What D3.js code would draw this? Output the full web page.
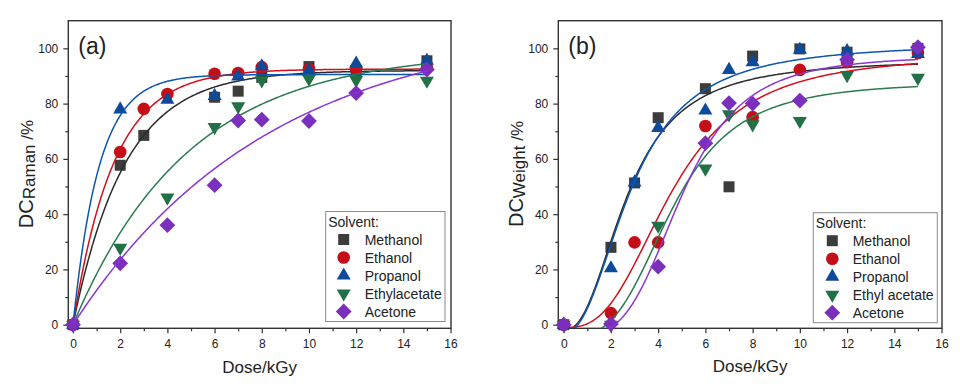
<!DOCTYPE html>
<html>
<head>
<meta charset="utf-8">
<script src="https://cdn.jsdelivr.net/npm/d3@7"></script>
<style>
  body { margin: 0; background: #fff; }
  text { font-family: "Liberation Sans", Arial, sans-serif; fill: #222; }
</style>
</head>
<body>
<div id="chart-area"></div>
<script>
// DATA  (dose in kGy, degree of conversion in %)
var solventsA = ["Methanol", "Ethanol", "Propanol", "Ethylacetate", "Acetone"];
var solventsB = ["Methanol", "Ethanol", "Propanol", "Ethyl acetate", "Acetone"];
var xTicks = [0, 2, 4, 6, 8, 10, 12, 14, 16];
var yTicks = [0, 20, 40, 60, 80, 100];

// (a) DC Raman
var ramanMethanol = [[0,0],[2,57.7],[3,68.5],[6,82.3],[7,84.5],[8,89.5],[10,93.4],[12,92],[15,95.5]];
var ramanEthanol = [[0,0],[2,62.5],[3,78.1],[4,83.5],[6,90.8],[7,91.1],[8,93.2],[10,92.5],[12,92.5],[15,93]];
var ramanPropanol = [[0,0],[2,77.9],[4,81.4],[6,82.8],[7,89.8],[8,93.5],[10,92],[12,94.5],[15,95.5]];
var ramanEthylacetate = [[0,0],[2,27.8],[4,46],[6,71.5],[7,79],[8,88.4],[10,89],[12,88.5],[15,88.3]];
var ramanAcetone = [[0,0],[2,22.2],[4,36],[6,50.5],[7,73.9],[8,74.2],[10,73.7],[12,83.8],[15,92.3]];

// exponential fit y = A(1 - exp(-k x))
var ramanFitA = [92, 92.5, 90.5, 99, 110];
var ramanFitK = [0.455, 0.58, 0.904, 0.205, 0.12];

// (b) DC weight
var weightMethanol = [[0,0],[2,28],[3,51.3],[4,74.9],[6,85.4],[7,49.9],[8,97.2],[10,99.8],[12,98.6],[15,100]];
var weightEthanol = [[0,0],[2,4.2],[3,29.8],[4,29.8],[6,71.9],[8,75.1],[10,92.2],[12,95],[15,98.3]];
var weightPropanol = [[0,0],[2,20.4],[3,51.5],[4,71.2],[6,77.5],[7,92.2],[8,95],[10,99.5],[12,99],[15,98]];
var weightEthylAcetate = [[0,0],[2,0],[4,35.8],[6,56.5],[7,76.1],[8,72.5],[10,73.7],[12,90.3],[15,89.3]];
var weightAcetone = [[0,0],[2,0.3],[4,21],[6,65.7],[7,80.2],[8,80],[10,81.1],[12,95.9],[15,100.4]];

// logistic fit y = A2 + (A1 - A2) / (1 + (x/x0)^p)
var weightFitA1 = [-2, -1, -3, -4, -4];
var weightFitA2 = [96, 98, 102, 88, 97.5];
var weightFitX0 = [2.71, 4.6, 2.88, 4.6, 5.0];
var weightFitP = [2.35, 2.8, 2.25, 3.3, 3.8];

// STYLE
var markerColors = ["#3c3c3c", "#c40f16", "#0e4a9a", "#217046", "#7b2fbd"];
var lineColors = ["#2b2b2b", "#d0101a", "#0c56b0", "#2a7c50", "#8a35d0"];
var shapes = ["square", "circle", "up", "down", "diamond"];

var svg = d3.select("#chart-area").append("svg")
    .attr("width", 960)
    .attr("height", 389)
    .style("display", "block");

svg.append("rect").attr("width", 960).attr("height", 389).attr("fill", "#fff");

function addMarker(sel, shape, color) {
    var p;
    if (shape == "square") p = sel.append("path").attr("d", d3.symbol(d3.symbolSquare, 121)());
    else if (shape == "circle") p = sel.append("path").attr("d", d3.symbol(d3.symbolCircle, 125)());
    else if (shape == "up") p = sel.append("path").attr("d", d3.symbol(d3.symbolTriangle, 85)());
    else if (shape == "down") p = sel.append("path").attr("d", d3.symbol(d3.symbolTriangle, 85)()).attr("transform", "rotate(180)");
    else p = sel.append("path").attr("d", d3.symbol(d3.symbolSquare, 125)()).attr("transform", "rotate(45)");
    p.attr("fill", color);
}

function drawPanel(cfg) {
    var x = d3.scaleLinear().domain(cfg.xDomain).range([cfg.left, cfg.right]);
    var y = d3.scaleLinear().domain([-1.3, 110]).range([cfg.bottom, cfg.top]);
    var g = svg.append("g");

    // clip for fit curves
    g.append("clipPath").attr("id", cfg.id + "-clip")
        .append("rect")
        .attr("x", cfg.left).attr("y", cfg.top)
        .attr("width", cfg.right - cfg.left).attr("height", cfg.bottom - cfg.top);

    // Axes (major + minor ticks)
    g.append("g").attr("transform", "translate(0," + cfg.bottom + ")")
        .call(d3.axisBottom(x).tickValues(xTicks).tickSize(5).tickPadding(6).tickFormat(d3.format("d")));
    g.append("g").attr("transform", "translate(0," + cfg.bottom + ")")
        .call(d3.axisBottom(x).tickValues(d3.range(1, 16, 2)).tickSize(3).tickFormat(""));
    g.append("g").attr("transform", "translate(" + cfg.left + ",0)")
        .call(d3.axisLeft(y).tickValues(yTicks).tickSize(5).tickPadding(5));
    g.append("g").attr("transform", "translate(" + cfg.left + ",0)")
        .call(d3.axisLeft(y).tickValues(d3.range(10, 100, 20)).tickSize(3).tickFormat(""));
    g.selectAll(".domain").remove();
    g.selectAll(".tick line").attr("stroke", "#333").attr("stroke-width", 1.2);
    g.selectAll(".tick text").attr("font-size", "12px").attr("font-family", "Liberation Sans, Arial, sans-serif").attr("fill", "#333");

    // frame
    g.append("rect")
        .attr("x", cfg.left).attr("y", cfg.top)
        .attr("width", cfg.right - cfg.left).attr("height", cfg.bottom - cfg.top)
        .attr("fill", "none").attr("stroke", "#333").attr("stroke-width", 1.4);

    var line = d3.line().x(d => x(d[0])).y(d => y(d[1]));
    var xs = d3.range(0, 15.001, 0.05);

    cfg.series.forEach((data, i) => {
        var pts = g.append("g");
        pts.selectAll("g").data(data).enter().append("g")
            .attr("transform", d => "translate(" + x(d[0]) + "," + y(d[1]) + ")")
            .each(function() { addMarker(d3.select(this), shapes[i], markerColors[i]); });

        g.append("path")
            .attr("clip-path", "url(#" + cfg.id + "-clip)")
            .attr("fill", "none")
            .attr("stroke", lineColors[i])
            .attr("stroke-width", 1.5)
            .attr("d", line(xs.map(v => [v, cfg.fit(v, i)])));
    });

    // panel letter
    g.append("text").attr("x", cfg.left + 10).attr("y", 53.5)
        .attr("font-size", "23px").text(cfg.letter);

    // x label
    g.append("text").attr("x", (cfg.left + cfg.right) / 2).attr("y", cfg.xLabelY)
        .attr("text-anchor", "middle").attr("font-size", "17px").text("Dose/kGy");

    // y label
    var yl = g.append("text")
        .attr("transform", "translate(" + cfg.yLabelX + "," + ((cfg.top + cfg.bottom) / 2 - 0.5) + ") rotate(-90)")
        .attr("text-anchor", "middle");
    yl.append("tspan").attr("font-size", "20px").text("DC");
    yl.append("tspan").attr("font-size", "17px").attr("dy", 2).text(cfg.sub);
    yl.append("tspan").attr("font-size", "17px").attr("dy", -2).text(" /%");

    // legend
    var lg = g.append("g").attr("transform", "translate(" + cfg.legendX + "," + cfg.legendY + ")");
    lg.append("rect").attr("width", cfg.legendW).attr("height", 110)
        .attr("fill", "#fff").attr("stroke", "#8a8a8a").attr("stroke-width", 1);
    lg.append("text").attr("x", 2.5).attr("y", 15).attr("font-size", "14px").text("Solvent:");
    cfg.names.forEach((name, i) => {
        var row = lg.append("g").attr("transform", "translate(0," + (28 + i * 18) + ")");
        var m = row.append("g").attr("transform", "translate(" + cfg.legendSym + ",0)");
        addMarker(m, shapes[i], markerColors[i]);
        row.append("text").attr("x", cfg.legendText).attr("y", 5).attr("font-size", "14px").text(name);
    });
}

drawPanel({
    id: "a", letter: "(a)", sub: "Raman",
    left: 68.3, right: 451, top: 20.7, bottom: 328.3,
    xDomain: [-0.2, 16.02],
    xLabelY: 373, yLabelX: 32.5,
    series: [ramanMethanol, ramanEthanol, ramanPropanol, ramanEthylacetate, ramanAcetone],
    names: solventsA,
    fit: (v, i) => ramanFitA[i] * (1 - Math.exp(-ramanFitK[i] * v)),
    legendX: 325.7, legendY: 211.5, legendW: 119.3, legendSym: 18, legendText: 39
});

drawPanel({
    id: "b", letter: "(b)", sub: "Weight",
    left: 558.3, right: 942, top: 20.7, bottom: 328.3,
    xDomain: [-0.23, 16.02],
    xLabelY: 372, yLabelX: 522.5,
    series: [weightMethanol, weightEthanol, weightPropanol, weightEthylAcetate, weightAcetone],
    names: solventsB,
    fit: (v, i) => weightFitA2[i] + (weightFitA1[i] - weightFitA2[i]) / (1 + Math.pow(v / weightFitX0[i], weightFitP[i])),
    legendX: 813.3, legendY: 212.7, legendW: 124, legendSym: 19, legendText: 39.4
});
</script>
</body>
</html>
